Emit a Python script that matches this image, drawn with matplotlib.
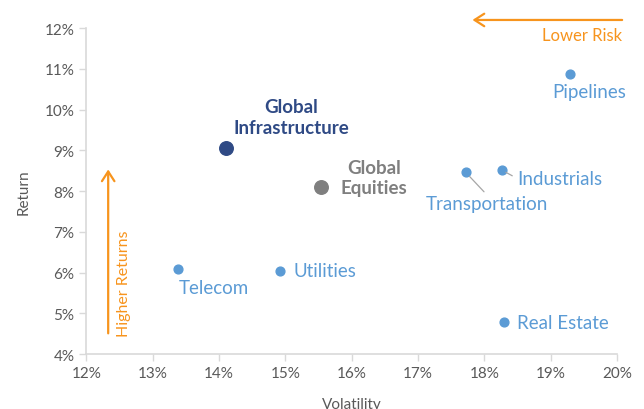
import matplotlib.pyplot as plt
from matplotlib.ticker import FuncFormatter

plt.rcParams['font.family'] = ['Lato', 'DejaVu Sans']

# Sector data (volatility %, return %)
sectors = ['Pipelines', 'Transportation', 'Industrials', 'Telecom', 'Utilities', 'Real Estate']
sector_vol = [19.29, 17.72, 18.27, 13.39, 14.92, 18.30]
sector_ret = [10.88, 8.46, 8.51, 6.09, 6.05, 4.78]

bench_names = ['Global\nInfrastructure', 'Global\nEquities']
bench_vol = [14.11, 15.54]
bench_ret = [9.05, 8.09]

x_ticks = [12, 13, 14, 15, 16, 17, 18, 19, 20]
y_ticks = [4, 5, 6, 7, 8, 9, 10, 11, 12]

blue = '#5B9BD5'
navy = '#2F4A85'
grey = '#7F7F7F'
orange = '#F7941D'
tick_col = '#595959'

fig = plt.figure(figsize=(6.44, 4.10), dpi=100)
ax = fig.add_axes([0.134, 0.134, 0.824, 0.795])

ax.scatter(sector_vol, sector_ret, s=40, color=blue, zorder=3)
ax.scatter(bench_vol[0], bench_ret[0], s=95, color=navy, zorder=3)
ax.scatter(bench_vol[1], bench_ret[1], s=95, color=grey, zorder=3)

# sector labels
offsets = {
    'Pipelines': (14, -7, 'center', 'top'),
    'Telecom': (0, -7, 'left', 'top'),
    'Utilities': (10, 0, 'left', 'center'),
    'Real Estate': (9, 0, 'left', 'center'),
}
for name, xv, yv in zip(sectors, sector_vol, sector_ret):
    if name == 'Transportation':
        ax.annotate(name, (xv, yv), xytext=(-29, -16), textcoords='offset points',
                    ha='left', va='top', color=blue, fontsize=13.5,
                    arrowprops=dict(arrowstyle='-', color='#A6A6A6', lw=0.9,
                                    shrinkA=0, shrinkB=4, relpos=(0.5, 1.0)))
    elif name == 'Industrials':
        ax.annotate(name, (xv, yv), xytext=(11, -6), textcoords='offset points',
                    ha='left', va='center', color=blue, fontsize=13.5,
                    arrowprops=dict(arrowstyle='-', color='#A6A6A6', lw=0.9,
                                    shrinkA=2, shrinkB=3, relpos=(0.0, 0.5)))
    else:
        dx, dy, ha, va = offsets[name]
        ax.annotate(name, (xv, yv), xytext=(dx, dy), textcoords='offset points',
                    ha=ha, va=va, color=blue, fontsize=13.5)

ax.annotate(bench_names[0], (bench_vol[0], bench_ret[0]), xytext=(47, 9),
            textcoords='offset points', ha='center', va='bottom', color=navy,
            fontsize=13.5, fontweight='bold', linespacing=1.25)
ax.annotate(bench_names[1], (bench_vol[1], bench_ret[1]), xytext=(38, 7),
            textcoords='offset points', ha='center', va='center', color=grey,
            fontsize=13.5, fontweight='bold', linespacing=1.25)

# direction arrows
ax.annotate('', xy=(17.78, 12.2), xytext=(20.12, 12.2),
            arrowprops=dict(arrowstyle='->,head_length=0.7,head_width=0.45',
                            color=orange, lw=1.6), annotation_clip=False)
ax.text(20.08, 11.83, 'Lower Risk', color=orange, fontsize=12, ha='right', va='center',
        clip_on=False)
ax.annotate('', xy=(12.33, 8.6), xytext=(12.33, 4.44),
            arrowprops=dict(arrowstyle='->,head_length=0.7,head_width=0.45',
                            color=orange, lw=1.6))
ax.text(12.57, 4.44, 'Higher Returns', color=orange, fontsize=11.5, rotation=90,
        ha='center', va='bottom')

ax.set_xlim(12, 20)
ax.set_ylim(4, 12)
ax.set_xticks(x_ticks)
ax.set_yticks(y_ticks)
ax.xaxis.set_major_formatter(FuncFormatter(lambda v, p: f'{v:.0f}%'))
ax.yaxis.set_major_formatter(FuncFormatter(lambda v, p: f'{v:.0f}%'))
ax.tick_params(colors='#D9D9D9', labelcolor=tick_col, labelsize=11, length=5, width=1)
for side in ['top', 'right']:
    ax.spines[side].set_visible(False)
for side in ['left', 'bottom']:
    ax.spines[side].set_color('#D9D9D9')
    ax.spines[side].set_linewidth(1.2)

ax.set_xlabel('Volatility', color=tick_col, fontsize=11, labelpad=12)
ax.set_ylabel('Return', color=tick_col, fontsize=11, labelpad=10)

plt.savefig('out.png', dpi=100)
